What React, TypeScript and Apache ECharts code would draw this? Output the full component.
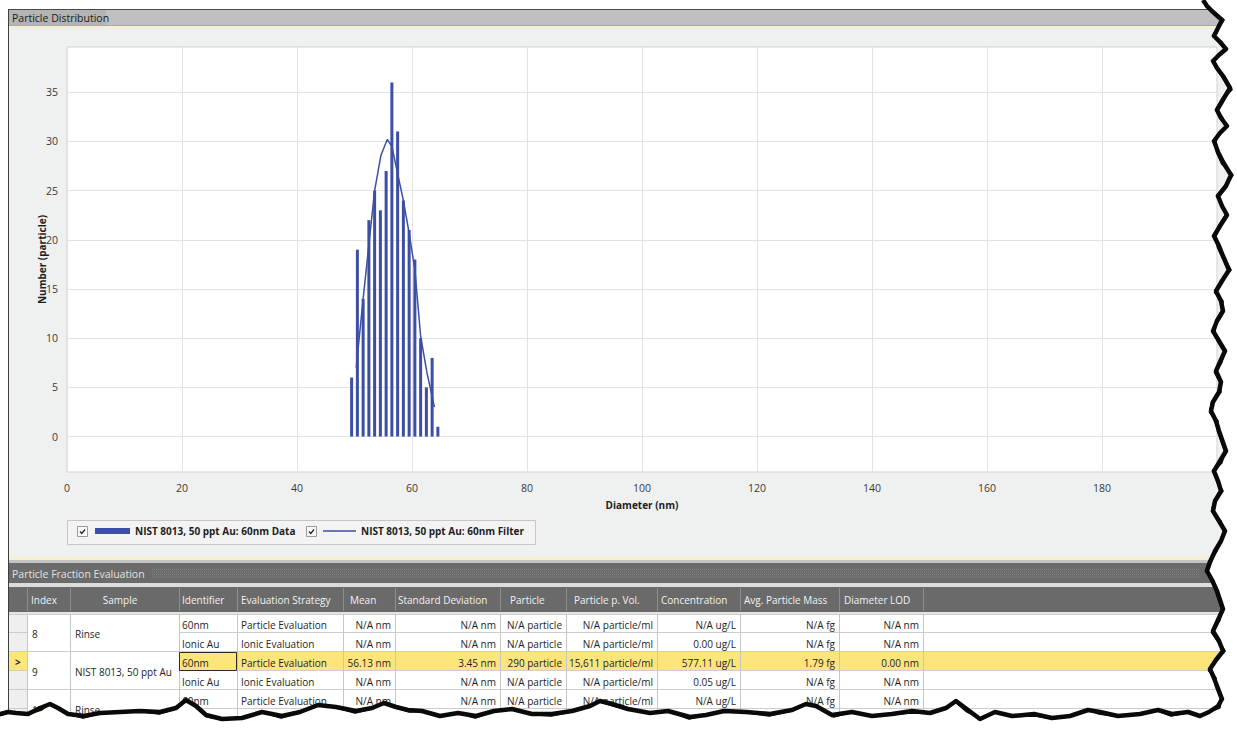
import React, { useEffect, useRef } from 'react';
import * as echarts from 'echarts';

// ---------- chart data ----------
const diameters = [49.5, 50.5, 51.5, 52.5, 53.5, 54.5, 55.5, 56.5, 57.5, 58.5, 59.5, 60.5, 61.5, 62.5, 63.5, 64.5];
const counts = [6, 19, 14, 22, 25, 23, 27, 36, 31, 24, 21, 18, 10, 5, 8, 1];
const filterX = [50.3, 51.5, 52.5, 53.5, 54.6, 55.7, 56.5, 57.4, 58.5, 59.4, 60.5, 61.5, 62.6, 63.9];
const filterY = [7, 14, 19.5, 25, 28.6, 30.2, 29.5, 27, 24, 21, 17, 10.2, 6.5, 3];
const yTickValues = [0, 5, 10, 15, 20, 25, 30, 35];
const seriesNames = ['NIST 8013, 50 ppt Au: 60nm Data', 'NIST 8013, 50 ppt Au: 60nm Filter'];

// ---------- table data ----------
const tableHeaders = ['Index', 'Sample', 'Identifier', 'Evaluation Strategy', 'Mean', 'Standard Deviation', 'Particle', 'Particle p. Vol.', 'Concentration', 'Avg. Particle Mass', 'Diameter LOD'];
const sampleIndex = ['8', '9', '10'];
const sampleNames = ['Rinse', 'NIST 8013, 50 ppt Au', 'Rinse'];
const identifiers = ['60nm', 'Ionic Au', '60nm', 'Ionic Au', '60nm', 'Ionic Au'];
const strategies = ['Particle Evaluation', 'Ionic Evaluation', 'Particle Evaluation', 'Ionic Evaluation', 'Particle Evaluation', 'Ionic Evaluation'];
const means = ['N/A nm', 'N/A nm', '56.13 nm', 'N/A nm', 'N/A nm', 'N/A nm'];
const stdDevs = ['N/A nm', 'N/A nm', '3.45 nm', 'N/A nm', 'N/A nm', 'N/A nm'];
const particles = ['N/A particle', 'N/A particle', '290 particle', 'N/A particle', 'N/A particle', 'N/A particle'];
const perVolume = ['N/A particle/ml', 'N/A particle/ml', '15,611 particle/ml', 'N/A particle/ml', 'N/A particle/ml', 'N/A particle/ml'];
const concentrations = ['N/A ug/L', '0.00 ug/L', '577.11 ug/L', '0.05 ug/L', 'N/A ug/L', 'N/A ug/L'];
const masses = ['N/A fg', 'N/A fg', '1.79 fg', 'N/A fg', 'N/A fg', 'N/A fg'];
const lods = ['N/A nm', 'N/A nm', '0.00 nm', 'N/A nm', 'N/A nm', 'N/A nm'];
const selectedRow = 2;

// ---------- layout (not data) ----------
const FF = '"Open Sans"';
const BLUE = '#3c4fa4';
const colEdges = [27, 70, 179, 237, 343, 395, 500, 566, 657, 740, 839, 923];
const headerX = [31, 120, 182, 241, 350, 398, 510, 574, 661, 744, 844];
const ROW0 = 615;
const ROWH = 19;
const TABLE_FONT = 10;

const tearRight: number[][] = [
  [1203, 0], [1207, 6], [1213, 12], [1222, 20], [1218, 28], [1214, 36], [1220, 42], [1226, 49], [1219, 55], [1213, 61],
  [1217, 68], [1223, 76], [1230, 88], [1224, 98], [1217, 110], [1221, 118], [1227, 126], [1220, 133], [1214, 141],
  [1218, 152], [1223, 162], [1231, 175], [1226, 186], [1218, 196], [1222, 206], [1227, 215], [1220, 226], [1214, 236],
  [1219, 246], [1223, 256], [1229, 270], [1222, 281], [1216, 291], [1221, 301], [1223, 311], [1217, 321], [1213, 331],
  [1219, 341], [1225, 351], [1220, 362], [1216, 371], [1221, 382], [1219, 392], [1213, 402], [1211, 411], [1216, 421],
  [1219, 431], [1226, 451], [1220, 461], [1214, 471], [1218, 481], [1221, 491], [1215, 501], [1213, 511], [1219, 521],
  [1225, 531], [1221, 541], [1215, 551], [1210, 562], [1207, 571], [1212, 580], [1217, 591], [1223, 609], [1218, 620],
  [1213, 631], [1219, 641], [1223, 651], [1216, 660], [1210, 669], [1214, 678], [1217, 686], [1222, 699], [1218, 706],
  [1209, 712], [1200, 716],
];
const tearBottom: number[][] = [
  [1188, 712], [1172, 714], [1158, 710], [1140, 714], [1118, 716], [1100, 712], [1088, 710], [1070, 716], [1052, 718],
  [1034, 714], [1012, 716], [995, 712], [980, 719], [968, 710], [956, 701], [946, 708], [930, 713], [912, 711], [892, 714],
  [872, 716], [852, 712], [832, 715], [816, 706], [806, 704], [792, 710], [770, 714], [746, 712], [724, 711], [706, 715],
  [690, 717], [668, 711], [650, 713], [628, 709], [612, 704], [600, 701], [590, 706], [572, 711], [552, 714], [532, 714],
  [512, 709], [494, 711], [476, 716], [458, 713], [440, 716], [422, 711], [408, 710], [396, 707], [384, 703], [372, 708],
  [356, 711], [336, 707], [318, 705], [300, 712], [282, 716], [262, 712], [242, 718], [222, 719], [206, 715], [196, 706],
  [186, 700], [176, 708], [160, 712], [140, 711], [120, 712], [100, 713], [84, 716], [68, 714], [58, 708], [50, 704],
  [40, 708], [28, 714], [16, 713], [8, 712], [0, 714],
];

function txt(text: string, x: number, y: number, opts: any = {}) {
  const align = opts.align || 'left';
  return {
    type: 'text',
    z: opts.z || 5,
    style: {
      text,
      x,
      y,
      fill: opts.fill || '#1e1e1e',
      font: `${opts.weight || 'normal'} ${opts.size || 10.5}px ${FF}`,
      align,
      verticalAlign: 'middle',
      textAlign: align,
      textVerticalAlign: 'middle',
    },
  };
}
function rect(x: number, y: number, w: number, h: number, fill: string, stroke?: string, z = 1) {
  return { type: 'rect', z, shape: { x, y, width: w, height: h }, style: { fill, stroke: stroke || null, lineWidth: 1 } };
}
function hline(x1: number, x2: number, y: number, stroke: string, z = 2, dash?: number[]) {
  return { type: 'line', z, shape: { x1, y1: y, x2, y2: y }, style: { stroke, lineWidth: 1, lineDash: dash || null } };
}
function vline(x: number, y1: number, y2: number, stroke: string, z = 2) {
  return { type: 'line', z, shape: { x1: x, y1, x2: x, y2 }, style: { stroke, lineWidth: 1 } };
}
function checkbox(x: number, y: number) {
  return [
    rect(x + 0.5, y + 0.5, 10, 10, '#f8f8f8', '#9a9a9a', 3),
    { type: 'polyline', z: 4, shape: { points: [[x + 3, y + 5.5], [x + 4.8, y + 7.5], [x + 8, y + 3.5]] }, style: { stroke: '#222', lineWidth: 1.3, fill: null } },
  ];
}

function buildGraphics() {
  const g: any[] = [];
  // top header of chart panel
  g.push(rect(8, 9, 1229, 17, '#c0c0c0'));
  g.push(rect(9, 10, 97, 16, '#b4b4b4'));
  g.push(hline(8, 1237, 9.5, '#4a4a4a', 3));
  g.push(hline(8, 1237, 25.5, '#a8a8a8', 3));
  g.push(rect(8, 26, 1229, 3, '#f4efd9'));
  g.push(txt('Particle Distribution', 12, 18, { size: 10.5, fill: '#1a1a1a' }));

  // legend box & checkboxes
  g.push(rect(67.5, 520.5, 468, 24, '#f3f3f3', '#c6c6c6', 1));
  g.push(...checkbox(77, 526));
  g.push(...checkbox(306, 526));

  // bottom section chrome
  g.push(rect(8, 556, 1229, 4, '#f4efd9'));
  g.push(rect(8, 560, 1229, 3, '#c4c4c4'));
  g.push(rect(8, 563, 1229, 20, '#6b6b6b'));
  g.push(txt('Particle Fraction Evaluation', 12, 573.5, { fill: '#e2e2e2' }));
  for (let i = 0; i < 4; i++) g.push(hline(152, 1200, 569.5 + i * 2.5, '#858585', 2, [1, 1]));
  g.push(rect(8, 583, 1229, 4, '#dcdcdc'));
  g.push(rect(9, 587, 1228, 25, '#6a6a6a'));
  for (const x of colEdges) g.push(vline(x + 0.5, 588, 611, '#8e8e8e', 3));
  tableHeaders.forEach((h, i) => {
    g.push(txt(h, headerX[i], 600, { fill: '#f2f2f2', size: TABLE_FONT, align: i === 1 ? 'center' : 'left' }));
  });

  // table body
  g.push(rect(9, 612, 1228, 117, '#ffffff'));
  g.push(rect(9, 612, 18, 117, '#efefef'));
  g.push(rect(9, 612, 1228, 2, '#e4e4e4'));
  const hy = ROW0 + selectedRow * ROWH - 1;
  g.push(rect(9, hy, 18, ROWH, '#fce67b', undefined, 1));
  g.push(rect(179, hy, 1058, ROWH, '#fce67b', undefined, 1));
  g.push(hline(9, 1237, 614.5, '#cdcdcd'));
  for (let r = 1; r <= 6; r++) {
    const y = ROW0 + r * ROWH - 1.5;
    if (r % 2 === 1) {
      g.push(hline(9, 27, y, '#cdcdcd'));
      g.push(hline(179, 1237, y, '#cdcdcd'));
    } else {
      g.push(hline(9, 1237, y, '#cdcdcd'));
    }
  }
  for (const x of colEdges) g.push(vline(x + 0.5, 614, 729, '#c6c6c6'));
  g.push({ type: 'rect', z: 4, shape: { x: 179.5, y: hy + 0.5, width: 57, height: ROWH - 1 }, style: { fill: null, stroke: '#2a2a2a', lineWidth: 1 } });
  g.push(txt('>', 15, ROW0 + selectedRow * ROWH + 9, { weight: 'bold', size: 10 }));

  sampleIndex.forEach((s, i) => {
    const cy = ROW0 + i * 2 * ROWH + ROWH - 0.5;
    g.push(txt(s, 32, cy, { size: TABLE_FONT }));
    g.push(txt(sampleNames[i], 75, cy, { size: TABLE_FONT }));
  });
  const rightCols = [means, stdDevs, particles, perVolume, concentrations, masses, lods];
  identifiers.forEach((id, r) => {
    const cy = ROW0 + r * ROWH + 9.5;
    g.push(txt(id, 182, cy, { size: TABLE_FONT }));
    g.push(txt(strategies[r], 241, cy, { size: TABLE_FONT }));
    rightCols.forEach((col, c) => {
      g.push(txt(col[r], colEdges[c + 5] - 4, cy, { align: 'right', size: TABLE_FONT }));
    });
  });

  // outer white margins
  g.push(rect(0, 0, 1237, 9, '#ffffff', undefined, 90));
  g.push(rect(0, 0, 8, 729, '#ffffff', undefined, 90));
  g.push(vline(8.5, 9, 729, '#3e3e3e', 91));

  // torn edge
  const poly = [...tearRight, ...tearBottom, [0, 729], [1237, 729], [1237, 0]];
  g.push({ type: 'polygon', z: 100, shape: { points: poly }, style: { fill: '#ffffff', stroke: null } });
  g.push({ type: 'polyline', z: 101, shape: { points: [...tearRight, ...tearBottom] }, style: { stroke: '#0a0a0a', lineWidth: 4.5, fill: null, lineJoin: 'round' } });
  g.push({ type: 'polyline', z: 101, shape: { points: [...tearRight, ...tearBottom].map(([x, y], i) => [x + (i % 3 === 0 ? 1.5 : -1), y + (i % 4 === 0 ? 1.5 : 0)]) }, style: { stroke: '#0a0a0a', lineWidth: 2.5, fill: null, lineJoin: 'round' } });
  return g;
}

export default function App() {
  const ref = useRef<HTMLDivElement>(null);
  useEffect(() => {
    if (!ref.current) return;
    const chart = echarts.init(ref.current, undefined, { renderer: 'svg' });
    const labelStyle = { fontFamily: FF, fontSize: 10.5, color: '#3a3a3a' };
    const legendText = { fontFamily: FF, fontSize: 10, fontWeight: 'bold' as const, color: '#1e1e1e' };
    chart.setOption({
      animation: false,
      grid: {
        left: 67, top: 47, right: 20, bottom: 257,
        show: true, backgroundColor: '#ffffff', borderColor: '#d0d0d0', borderWidth: 1,
        containLabel: false,
      },
      xAxis: {
        type: 'value', min: 0, max: 200, interval: 20,
        name: 'Diameter (nm)', nameLocation: 'middle', nameGap: 28, nameMoveOverlap: false,
        nameTextStyle: { fontFamily: FF, fontSize: 10, fontWeight: 'bold', color: '#1e1e1e' },
        axisLine: { show: false }, axisTick: { show: false },
        axisLabel: { ...labelStyle, margin: 10, showMaxLabel: false },
        splitLine: { show: true, lineStyle: { color: '#e3e3e3', width: 1 } },
      },
      yAxis: {
        type: 'value', min: -3.6, max: 39.6,
        name: 'Number (particle)', nameLocation: 'middle', nameGap: 20, nameRotate: 90, nameMoveOverlap: false,
        nameTextStyle: { fontFamily: FF, fontSize: 10, fontWeight: 'bold', color: '#1e1e1e' },
        axisLine: { show: false },
        axisTick: { show: false, customValues: yTickValues },
        axisLabel: { ...labelStyle, margin: 9, customValues: yTickValues },
        splitLine: { show: true, lineStyle: { color: '#e3e3e3', width: 1 } },
      },
      legend: [
        {
          data: [{ name: seriesNames[0], icon: 'rect' }], left: 95, top: 526, padding: 0,
          itemWidth: 35, itemHeight: 6, selectedMode: false, textStyle: legendText,
        },
        {
          data: [{ name: seriesNames[1], icon: 'path://M0,0 L33,0 L33,1.5 L0,1.5 Z' }], left: 323, top: 526, padding: 0,
          itemWidth: 33, itemHeight: 1.5, selectedMode: false, textStyle: legendText,
        },
      ],
      series: [
        {
          name: seriesNames[0], type: 'bar', barWidth: 3,
          itemStyle: { color: BLUE },
          data: diameters.map((d, i) => [d, counts[i]]),
        },
        {
          name: seriesNames[1], type: 'line', symbol: 'none', showSymbol: false,
          lineStyle: { color: BLUE, width: 1.5 }, itemStyle: { color: BLUE },
          data: filterX.map((d, i) => [d, filterY[i]]),
          z: 3,
        },
      ],
      graphic: { elements: buildGraphics() },
    });
    return () => chart.dispose();
  }, []);
  return (
    <div
      ref={ref}
      style={{ position: 'fixed', left: 0, top: 0, width: 1237, height: 729, background: '#eff0f0' }}
    />
  );
}
